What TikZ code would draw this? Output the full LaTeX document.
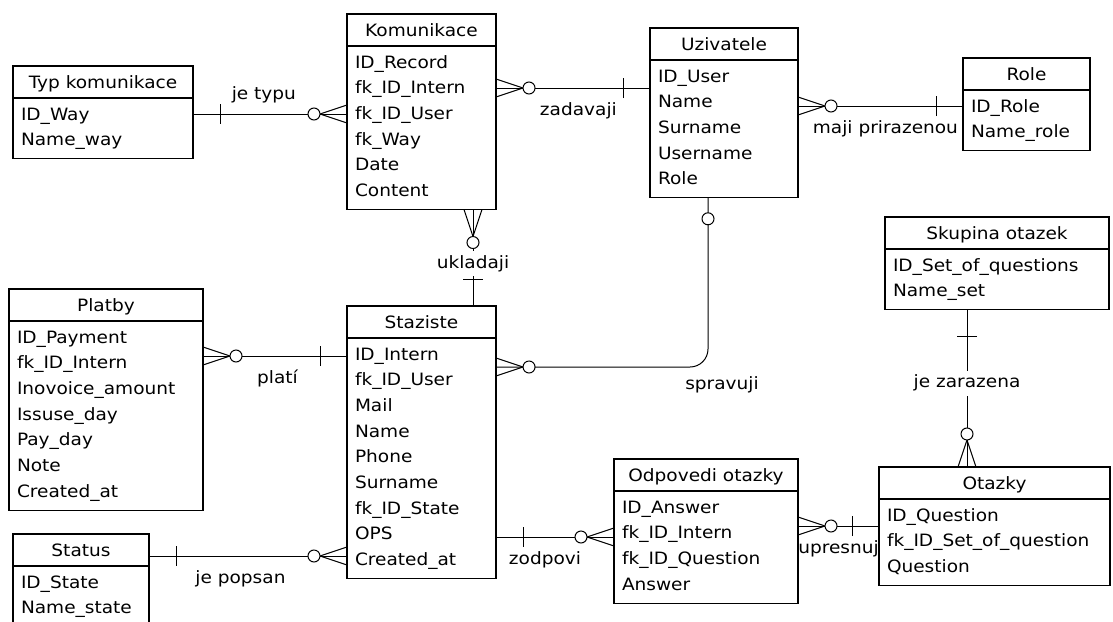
\documentclass[tikz,border=0pt]{standalone}
\usepackage{fontspec}
\setmainfont{DejaVu Sans}[FakeStretch = 1.09]
\usepackage{tikz}
\usetikzlibrary{positioning}
\usetikzlibrary{decorations.markings}
\tikzstyle{enthead} = [rectangle, draw = black, line width = 1.2pt, outer sep = 0pt, inner sep = 0pt, minimum height = 32pt, anchor = north, text height = 12.5pt, text depth = 0pt, font = \fontsize{17}{25.7}\selectfont]
\tikzstyle{entbody} = [rectangle, draw = black, line width = 1.2pt, outer sep = 0pt, inner xsep = 8pt, inner ysep = 4pt, align = left, execute at begin node = {\rule{0pt}{18pt}}, execute at end node = {\rule[-9pt]{0pt}{9pt}}, font = \fontsize{17}{25.7}\selectfont]
\tikzstyle{relline} = [draw = black, line width = 1pt]
\tikzstyle{onestart} = [postaction = {decorate, decoration = {markings, mark = at position 27pt with {\draw [line width = 1pt, sharp corners] (0, -10) -- (0, 10);}}}]
\tikzstyle{optstart} = [postaction = {decorate, decoration = {markings, mark = at position 21pt with {\draw [line width = 1pt, fill = white] (0, 0) circle (6pt);}}}]
\tikzstyle{manyend} = [postaction = {decorate, decoration = {markings, mark = at position 0.9999 with {\draw [line width = 1pt, sharp corners] (0, 9) -- (-27, 0) (0, -9) -- (-27, 0); \draw [line width = 1pt, fill = white] (-33, 0) circle (6pt);}}}]
\tikzstyle{lbl} = [font = \fontsize{17}{20}\selectfont, inner sep = 1pt, text height = 13pt, text depth = 4pt]
\tikzstyle{onlbl} = [fill = white, inner ysep = 4pt]

\begin{document}
\begin{tikzpicture}[x = 1pt, y = -1pt]
 \clip (0, 0) rectangle (1113, 621);
 % tables
 \node [enthead, minimum width = 180pt] (typ) at (103, 66) {Typ komunikace};
 \node [entbody, text width = 164pt, below = 0pt of typ] (typb) {ID\_Way\\Name\_way};
 \node [enthead, minimum width = 149pt] (kom) at (421.5, 14) {Komunikace};
 \node [entbody, text width = 133pt, below = 0pt of kom] (komb) {ID\_Record\\fk\_ID\_Intern\\fk\_ID\_User\\fk\_Way\\Date\\Content};
 \node [enthead, minimum width = 148pt] (uzi) at (724, 28) {Uzivatele};
 \node [entbody, text width = 132pt, below = 0pt of uzi] (uzib) {ID\_User\\Name\\Surname\\Username\\Role};
 \node [enthead, minimum width = 127pt] (role) at (1026.5, 58) {Role};
 \node [entbody, text width = 111pt, below = 0pt of role] (roleb) {ID\_Role\\Name\_role};
 \node [enthead, minimum width = 224pt] (skp) at (997, 217) {Skupina otazek};
 \node [entbody, text width = 208pt, below = 0pt of skp] (skpb) {ID\_Set\_of\_questions\\Name\_set};
 \node [enthead, minimum width = 194pt] (plat) at (106, 289) {Platby};
 \node [entbody, text width = 178pt, below = 0pt of plat] (platb) {ID\_Payment\\fk\_ID\_Intern\\Inovoice\_amount\\Issuse\_day\\Pay\_day\\Note\\Created\_at};
 \node [enthead, minimum width = 149pt] (stz) at (421.5, 306) {Staziste};
 \node [entbody, text width = 133pt, below = 0pt of stz] (stzb) {ID\_Intern\\fk\_ID\_User\\Mail\\Name\\Phone\\Surname\\fk\_ID\_State\\OPS\\Created\_at};
 \node [enthead, minimum width = 136pt] (stat) at (81, 534) {Status};
 \node [entbody, text width = 120pt, below = 0pt of stat] (statb) {ID\_State\\Name\_state};
 \node [enthead, minimum width = 184pt] (odp) at (706, 459) {Odpovedi otazky};
 \node [entbody, text width = 168pt, below = 0pt of odp] (odpb) {ID\_Answer\\fk\_ID\_Intern\\fk\_ID\_Question\\Answer};
 \node [enthead, minimum width = 231pt] (otz) at (994.5, 467) {Otazky};
 \node [entbody, text width = 215pt, below = 0pt of otz] (otzb) {ID\_Question\\fk\_ID\_Set\_of\_question\\Question};

 % relations
 \coordinate (typkom) at ([yshift = -16pt]typb.north east);
 \draw [relline, onestart, manyend] (typkom) to node [lbl, pos = 0.46, above = 9pt] {je typu} (typkom -| komb.west);
 \coordinate (uzikom) at ([yshift = -28pt]uzib.north west);
 \draw [relline, onestart, manyend] (uzikom) to node [lbl, pos = 0.465, below = 13pt] {zadavaji} (uzikom -| komb.east);
 \coordinate (roleuzi) at ([yshift = -16pt]roleb.north west);
 \draw [relline, onestart, manyend] (roleuzi) to node [lbl, pos = 0.47, below = 13pt] {maji prirazenou} (roleuzi -| uzib.east);
 \coordinate (stzkom) at ([xshift = 51.5pt]stz.north);
 \draw [relline, onestart, manyend] (stzkom) to node [lbl, onlbl, pos = 0.44] {ukladaji} (stzkom |- komb.south);
 \coordinate (uzistz) at ([xshift = -16pt]uzib.south);
 \coordinate (stzuzi) at ([yshift = -29pt]stzb.north east);
 \draw [relline, optstart, manyend, rounded corners = 18pt] (uzistz) -- (uzistz |- stzuzi) node [lbl, below = 8pt, xshift = 14pt] {spravuji} -- (stzuzi);
 \coordinate (stzplat) at ([yshift = -18pt]stzb.north west);
 \draw [relline, onestart, manyend] (stzplat) to node [lbl, pos = 0.483, below = 13pt] {platí} (stzplat -| platb.east);
 \coordinate (statstz) at ([yshift = -22pt]stat.north east);
 \draw [relline, onestart, manyend] (statstz) to node [lbl, pos = 0.462, below = 13pt] {je popsan} (statstz -| stzb.west);
 \coordinate (stzodp) at ([yshift = -199pt]stzb.north east);
 \draw [relline, onestart, manyend] (stzodp) to node [lbl, pos = 0.415, below = 13pt] {zodpovi} (stzodp -| odpb.west);
 \coordinate (otzodp) at ([yshift = -27pt]otzb.north west);
 \draw [relline, onestart, manyend] (otzodp) to node [lbl, pos = 0.5, below = 13pt] {upresnuj} (otzodp -| odpb.east);
 \coordinate (skpotz) at ([xshift = -30pt]skpb.south);
 \draw [relline, onestart, manyend] (skpotz) to node [lbl, onlbl, pos = 0.468] {je zarazena} (skpotz |- otz.north);
\end{tikzpicture}
\end{document}
